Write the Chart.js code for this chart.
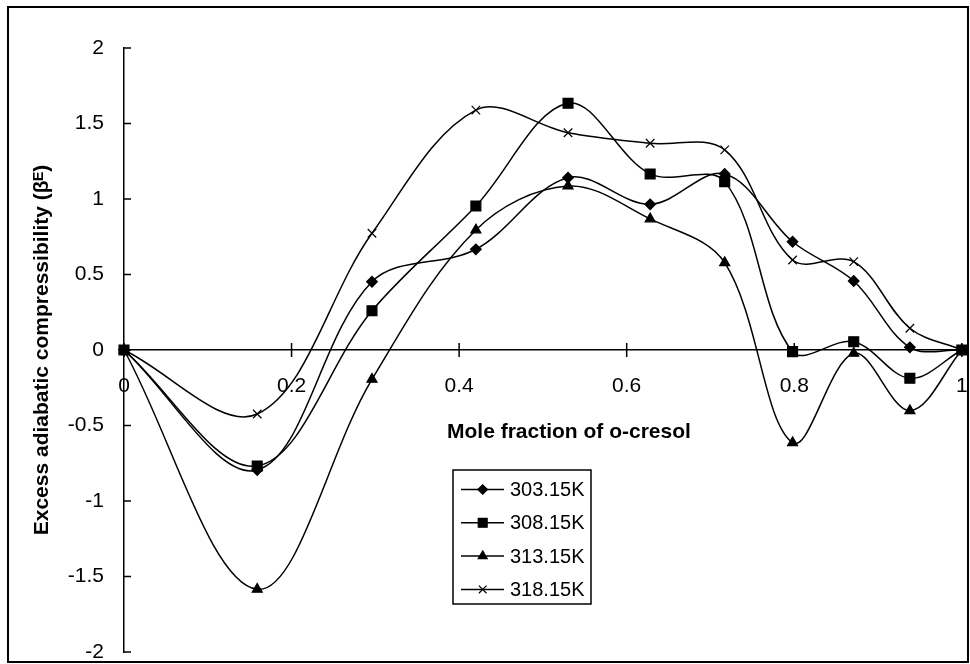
<!DOCTYPE html>
<html lang="en">
<head>
<meta charset="UTF-8">
<title>Excess adiabatic compressibility vs mole fraction of o-cresol</title>
<script src="https://cdn.jsdelivr.net/npm/chart.js"></script>
<style>
  body { margin: 0; background: #fff; font-family: 'Liberation Sans', Arial, sans-serif; }
  .wrap { position: relative; width: 970px; height: 664px; }
  .frame { position: absolute; left: 7px; top: 6px; right: 1px; bottom: 1px; border: 2px solid #000; pointer-events: none; }
</style>
</head>
<body>
<div class="wrap">
  <canvas id="chart" width="970" height="664"></canvas>
  <div class="frame"></div>
</div>

<script>
// values
const moleFraction = [0, 0.159, 0.296, 0.420, 0.530, 0.628, 0.717, 0.798, 0.871, 0.938, 1];
const seriesNames = ['303.15K', '308.15K', '313.15K', '318.15K'];
const beta303 = [0, -0.795, 0.452, 0.667, 1.141, 0.965, 1.166, 0.717, 0.457, 0.018, 0];
const beta308 = [0, -0.768, 0.26, 0.954, 1.634, 1.166, 1.115, -0.011, 0.055, -0.187, 0];
const beta313 = [0, -1.585, -0.194, 0.795, 1.086, 0.868, 0.578, -0.614, -0.022, -0.402, 0];
const beta318 = [0, -0.424, 0.773, 1.589, 1.439, 1.369, 1.325, 0.596, 0.585, 0.144, 0];
const xTicks = [0, 0.2, 0.4, 0.6, 0.8, 1];
const yTicks = [-2, -1.5, -1, -0.5, 0, 0.5, 1, 1.5, 2];

const xTitle = 'Mole fraction of o-cresol';
const yTitle = 'Excess adiabatic compressibility (β\u1D31)';

const markers = [
  { style: 'rectRot', r: 5.3 },
  { style: 'rect', r: 7 },
  { style: 'triangle', r: 5.8 },
  { style: 'crossRot', r: 6 }
];

Chart.defaults.font.family = "'Liberation Sans', Arial, sans-serif";
Chart.defaults.color = '#000';

function pts(arr) {
  return moleFraction.map((x, i) => ({ x: x, y: arr[i] }));
}

const datasets = [beta303, beta308, beta313, beta318].map((arr, i) => ({
  label: seriesNames[i],
  data: pts(arr),
  showLine: true,
  tension: 0.35,
  borderColor: '#000',
  borderWidth: 1.5,
  pointStyle: markers[i].style,
  pointRadius: markers[i].r,
  pointBackgroundColor: '#000',
  pointBorderColor: '#000',
  pointBorderWidth: 1.2,
  clip: false
}));

// Excel style tick marks: crossing on x, inside on y
const tickMarks = {
  id: 'tickMarks',
  beforeDatasetsDraw(chart) {
    const { ctx, scales: { x, y } } = chart;
    const y0 = y.getPixelForValue(0);
    const x0 = x.getPixelForValue(0);
    ctx.save();
    ctx.strokeStyle = '#000';
    ctx.lineWidth = 1.5;
    ctx.beginPath();
    x.ticks.forEach(t => {
      const px = x.getPixelForValue(t.value);
      ctx.moveTo(px, y0 - 7);
      ctx.lineTo(px, y0 + 7);
    });
    y.ticks.forEach(t => {
      const py = y.getPixelForValue(t.value);
      ctx.moveTo(x0, py);
      ctx.lineTo(x0 + 7, py);
    });
    ctx.stroke();
    ctx.restore();
  }
};

// x title + boxed legend inside the plot
const extras = {
  id: 'extras',
  afterDraw(chart) {
    const ctx = chart.ctx;
    ctx.save();
    ctx.fillStyle = '#000';
    ctx.textBaseline = 'middle';
    ctx.textAlign = 'left';
    ctx.font = "bold 21px 'Liberation Sans', Arial, sans-serif";
    ctx.fillText(xTitle, 447, 432);

    const box = { left: 453, top: 470, w: 138, h: 134 };
    ctx.strokeStyle = '#000';
    ctx.lineWidth = 1.5;
    ctx.fillStyle = '#fff';
    ctx.fillRect(box.left, box.top, box.w, box.h);
    ctx.strokeRect(box.left, box.top, box.w, box.h);

    ctx.font = "20px 'Liberation Sans', Arial, sans-serif";
    seriesNames.forEach((name, i) => {
      const yy = 489.5 + i * 33.3;
      ctx.beginPath();
      ctx.moveTo(461, yy);
      ctx.lineTo(504, yy);
      ctx.lineWidth = 1.5;
      ctx.strokeStyle = '#000';
      ctx.stroke();
      ctx.fillStyle = '#000';
      ctx.lineWidth = 1.2;
      Chart.helpers.drawPoint(ctx, { pointStyle: markers[i].style, radius: markers[i].r * 0.9, rotation: 0, borderWidth: 1.2 }, 482.7, yy);
      ctx.fillText(name, 510, yy + 1);
    });
    ctx.restore();
  }
};

const fmt = v => String(Math.round(v * 10) / 10);

new Chart(document.getElementById('chart'), {
  type: 'scatter',
  data: { datasets: datasets },
  plugins: [tickMarks, extras],
  options: {
    responsive: false,
    animation: false,
    layout: { padding: { left: 0, top: 48, right: 5, bottom: 12 } },
    plugins: { legend: { display: false }, tooltip: { enabled: false } },
    scales: {
      x: {
        type: 'linear',
        min: xTicks[0],
        max: xTicks[xTicks.length - 1],
        position: { y: 0 },
        grid: { drawOnChartArea: false, drawTicks: false },
        border: { color: '#000', width: 1.5 },
        afterBuildTicks(s) { s.ticks = xTicks.map(v => ({ value: v })); },
        // axis sits on y = 0, so it should not take room from the plot
        afterFit(s) { s.height = 0; s.paddingLeft = 0; s.paddingRight = 0; },
        ticks: { padding: 24, color: '#000', font: { size: 21 }, callback: fmt }
      },
      y: {
        type: 'linear',
        min: yTicks[0],
        max: yTicks[yTicks.length - 1],
        grid: { drawOnChartArea: false, drawTicks: false },
        border: { color: '#000', width: 1.5 },
        afterBuildTicks(s) { s.ticks = yTicks.map(v => ({ value: v })); },
        afterFit(s) { s.width = 124; s.paddingTop = 0; s.paddingBottom = 0; },
        ticks: { padding: 20, color: '#000', font: { size: 21 }, callback: fmt },
        title: {
          display: true,
          text: yTitle,
          color: '#000',
          font: { size: 21, weight: 'bold' },
          padding: { top: 30, bottom: 0 }
        }
      }
    }
  }
});
</script>
</body>
</html>
